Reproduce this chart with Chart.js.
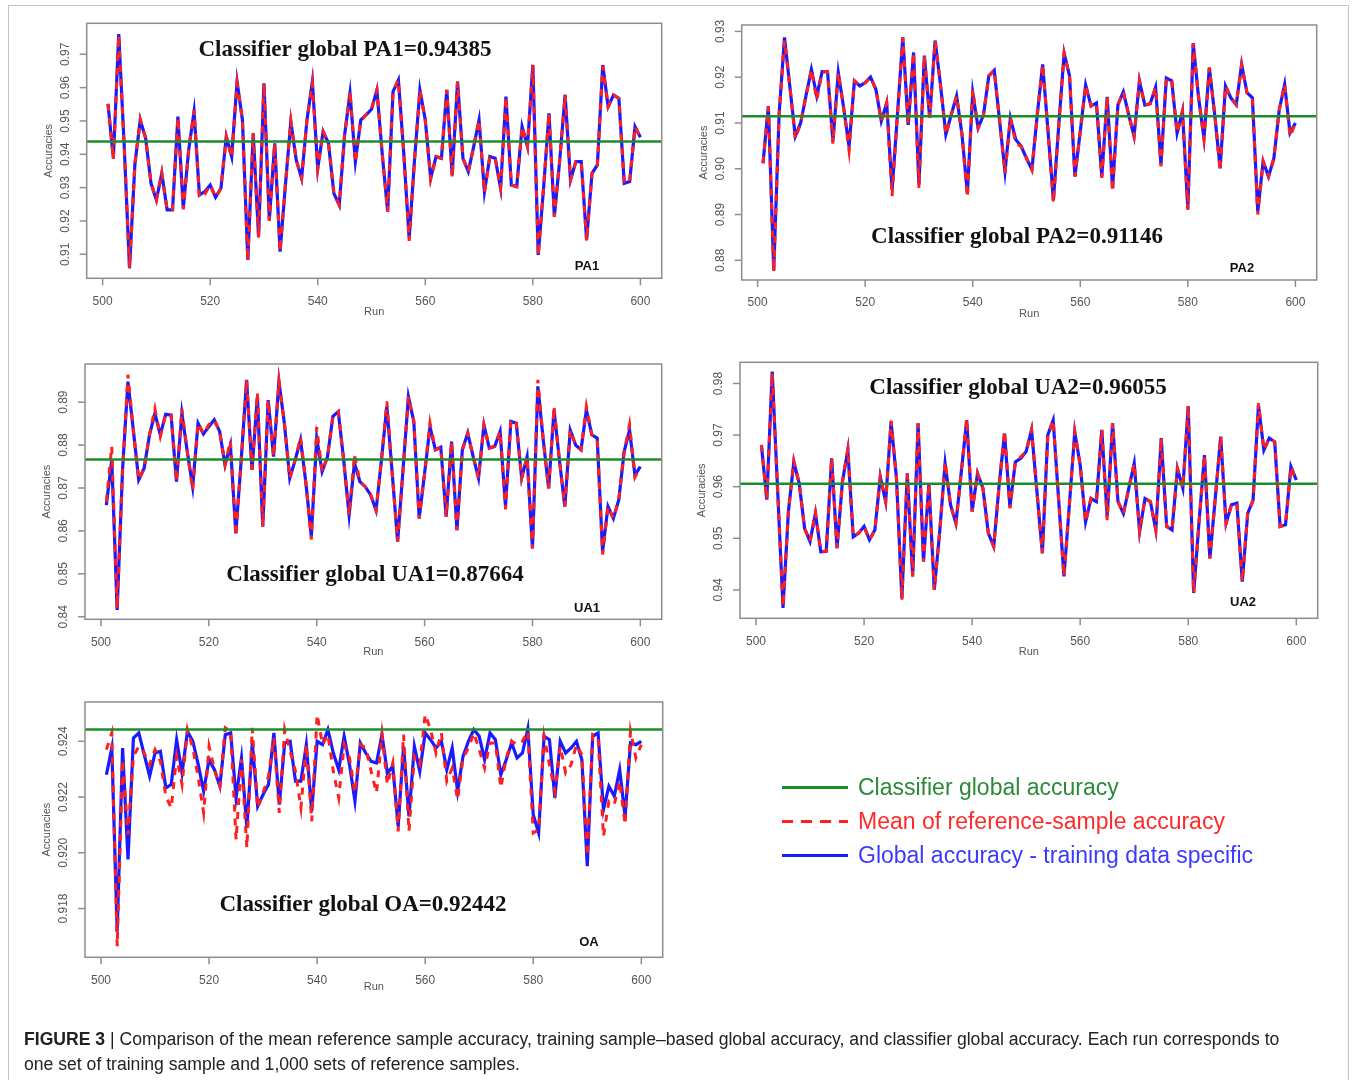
<!DOCTYPE html>
<html>
<head>
<meta charset="utf-8">
<script src="https://cdn.jsdelivr.net/npm/chart.js@4.4.1/dist/chart.umd.min.js"></script>
<style>
  html,body{margin:0;padding:0;background:#fff;}
  body{width:1354px;height:1080px;position:relative;overflow:hidden;font-family:"Liberation Sans",Arial,sans-serif;}
  .frame{position:absolute;left:8px;top:5px;width:1341px;height:1100px;border:1px solid #c4c4c4;box-sizing:border-box;}
  canvas.panel{position:absolute;left:0;top:0;}
  .lg-line{position:absolute;left:782px;width:66px;}
  .lg-text{position:absolute;left:858px;font-size:23px;line-height:26px;white-space:nowrap;}
  .caption{position:absolute;left:24px;top:1027px;font-size:17.6px;line-height:25px;color:#222;white-space:nowrap;}
</style>
</head>
<body>
<div class="frame"></div>
<canvas class="panel" id="cPA1" width="1354" height="1080"></canvas>
<canvas class="panel" id="cPA2" width="1354" height="1080"></canvas>
<canvas class="panel" id="cUA1" width="1354" height="1080"></canvas>
<canvas class="panel" id="cUA2" width="1354" height="1080"></canvas>
<canvas class="panel" id="cOA" width="1354" height="1080"></canvas>

<div class="lg-line" style="top:786px;height:2.5px;background:#1f8c2b;"></div>
<div class="lg-text" style="top:774px;color:#2a8a3a;">Classifier global accuracy</div>
<div class="lg-line" style="top:819.5px;height:3px;background:repeating-linear-gradient(90deg,#ff2020 0 11px,transparent 11px 19px);"></div>
<div class="lg-text" style="top:808px;color:#ff2a2a;">Mean of reference-sample accuracy</div>
<div class="lg-line" style="top:853.5px;height:3px;background:#1a1aff;"></div>
<div class="lg-text" style="top:842px;color:#3a3aff;">Global accuracy - training data specific</div>

<div class="caption"><b>FIGURE 3</b> | Comparison of the mean reference sample accuracy, training sample–based global accuracy, and classifier global accuracy. Each run corresponds to<br>one set of training sample and 1,000 sets of reference samples.</div>

<script>
// ---------------- DATA ----------------
const runs = Array.from({length:100}, (_, i) => 501 + i);
const xTicks = [500, 520, 540, 560, 580, 600];

const globalPA1 = 0.94385, globalPA2 = 0.91146, globalUA1 = 0.87664, globalUA2 = 0.96055, globalOA = 0.92442;

const yTicksPA1 = [0.91, 0.92, 0.93, 0.94, 0.95, 0.96, 0.97];
const yTicksPA2 = [0.88, 0.89, 0.90, 0.91, 0.92, 0.93];
const yTicksUA1 = [0.84, 0.85, 0.86, 0.87, 0.88, 0.89];
const yTicksUA2 = [0.94, 0.95, 0.96, 0.97, 0.98];
const yTicksOA  = [0.918, 0.920, 0.922, 0.924];

// Global accuracy - training data specific (blue)
const trainPA1 = [
0.9551,0.9388,0.9761,0.9430,0.9058,0.9370,0.9503,0.9448,0.9313,0.9263,
0.9343,0.9233,0.9233,0.9513,0.9238,0.9413,0.9528,0.9278,0.9288,0.9308,
0.9271,0.9298,0.9453,0.9393,0.9618,0.9503,0.9083,0.9463,0.9153,0.9613,
0.9203,0.9433,0.9108,0.9310,0.9498,0.9383,0.9328,0.9503,0.9618,0.9358,
0.9468,0.9433,0.9283,0.9248,0.9458,0.9583,0.9378,0.9503,0.9518,0.9535,
0.9593,0.9400,0.9228,0.9588,0.9623,0.9403,0.9148,0.9383,0.9593,0.9503,
0.9328,0.9393,0.9388,0.9593,0.9338,0.9618,0.9388,0.9348,0.9423,0.9503,
0.9288,0.9393,0.9388,0.9298,0.9573,0.9308,0.9303,0.9483,0.9423,0.9668,
0.9098,0.9300,0.9523,0.9213,0.9383,0.9578,0.9323,0.9378,0.9378,0.9143,
0.9343,0.9368,0.9668,0.9543,0.9578,0.9568,0.9313,0.9318,0.9483,0.9451];
const trainPA2 = [
0.9012,0.9137,0.8778,0.9120,0.9287,0.9179,0.9071,0.9100,0.9160,0.9217,
0.9159,0.9212,0.9212,0.9060,0.9210,0.9133,0.9049,0.9192,0.9181,0.9188,
0.9200,0.9173,0.9104,0.9144,0.8954,0.9118,0.9287,0.9096,0.9254,0.8965,
0.9247,0.9111,0.9280,0.9184,0.9075,0.9118,0.9159,0.9075,0.8946,0.9166,
0.9089,0.9118,0.9203,0.9215,0.9104,0.8994,0.9111,0.9064,0.9049,0.9023,
0.8998,0.9118,0.9228,0.9082,0.8932,0.9096,0.9252,0.9203,0.8983,0.9082,
0.9183,0.9137,0.9144,0.8983,0.9157,0.8957,0.9140,0.9168,0.9118,0.9071,
0.9192,0.9139,0.9142,0.9178,0.9009,0.9198,0.9192,0.9078,0.9126,0.8913,
0.9274,0.9155,0.9067,0.9221,0.9118,0.9001,0.9181,0.9155,0.9140,0.9228,
0.9166,0.9155,0.8906,0.9016,0.8983,0.9023,0.9129,0.9184,0.9078,0.9100];
const trainUA1 = [
0.8660,0.8765,0.8416,0.8742,0.8948,0.8835,0.8719,0.8746,0.8824,0.8874,
0.8824,0.8872,0.8870,0.8715,0.8874,0.8785,0.8703,0.8851,0.8826,0.8843,
0.8859,0.8832,0.8754,0.8800,0.8594,0.8765,0.8952,0.8742,0.8913,0.8610,
0.8905,0.8773,0.8948,0.8851,0.8723,0.8765,0.8812,0.8711,0.8587,0.8816,
0.8738,0.8773,0.8867,0.8878,0.8765,0.8637,0.8758,0.8715,0.8703,0.8684,
0.8648,0.8765,0.8890,0.8734,0.8575,0.8742,0.8913,0.8855,0.8629,0.8734,
0.8843,0.8789,0.8795,0.8633,0.8808,0.8602,0.8789,0.8828,0.8773,0.8723,
0.8847,0.8793,0.8797,0.8832,0.8657,0.8855,0.8851,0.8723,0.8773,0.8559,
0.8937,0.8812,0.8699,0.8882,0.8765,0.8657,0.8835,0.8800,0.8789,0.8882,
0.8824,0.8816,0.8552,0.8657,0.8629,0.8672,0.8785,0.8835,0.8730,0.8750];
const trainUA2 = [
0.9681,0.9575,0.9823,0.9594,0.9365,0.9552,0.9648,0.9606,0.9519,0.9494,
0.9548,0.9474,0.9475,0.9655,0.9481,0.9610,0.9671,0.9503,0.9510,0.9523,
0.9497,0.9516,0.9619,0.9571,0.9726,0.9616,0.9384,0.9626,0.9426,0.9723,
0.9455,0.9606,0.9400,0.9513,0.9645,0.9565,0.9529,0.9629,0.9729,0.9552,
0.9626,0.9597,0.9510,0.9484,0.9603,0.9703,0.9561,0.9648,0.9655,0.9668,
0.9710,0.9590,0.9471,0.9700,0.9729,0.9577,0.9426,0.9565,0.9706,0.9642,
0.9532,0.9577,0.9571,0.9710,0.9542,0.9723,0.9571,0.9548,0.9597,0.9645,
0.9513,0.9577,0.9571,0.9516,0.9694,0.9523,0.9516,0.9635,0.9597,0.9755,
0.9394,0.9532,0.9661,0.9461,0.9577,0.9697,0.9529,0.9565,0.9568,0.9416,
0.9548,0.9574,0.9758,0.9671,0.9694,0.9687,0.9523,0.9526,0.9639,0.9613];
const trainOA = [
0.92280,0.92376,0.91719,0.92376,0.91976,0.92412,0.92430,0.92352,0.92275,0.92358,
0.92364,0.92233,0.92245,0.92406,0.92286,0.92436,0.92400,0.92316,0.92221,0.92334,
0.92298,0.92239,0.92424,0.92430,0.92197,0.92340,0.92089,0.92394,0.92167,0.92209,
0.92245,0.92430,0.92173,0.92394,0.92400,0.92257,0.92257,0.92388,0.92149,0.92400,
0.92388,0.92442,0.92358,0.92298,0.92418,0.92316,0.92185,0.92394,0.92358,0.92328,
0.92322,0.92424,0.92286,0.92310,0.92095,0.92382,0.92131,0.92382,0.92292,0.92430,
0.92406,0.92376,0.92400,0.92298,0.92376,0.92221,0.92346,0.92400,0.92442,0.92418,
0.92334,0.92430,0.92406,0.92280,0.92334,0.92394,0.92340,0.92358,0.92445,0.92137,
0.92071,0.92418,0.92406,0.92197,0.92400,0.92358,0.92376,0.92400,0.92334,0.91952,
0.92418,0.92430,0.92155,0.92239,0.92203,0.92298,0.92131,0.92394,0.92388,0.92400];

// Mean of reference-sample accuracy (red dashed)
const refPA1 = [
0.9551,0.9385,0.9758,0.9430,0.9060,0.9370,0.9505,0.9448,0.9313,0.9263,
0.9345,0.9233,0.9235,0.9510,0.9235,0.9413,0.9532,0.9270,0.9280,0.9308,
0.9271,0.9298,0.9453,0.9390,0.9615,0.9503,0.9080,0.9463,0.9150,0.9613,
0.9200,0.9433,0.9108,0.9310,0.9500,0.9383,0.9328,0.9503,0.9615,0.9355,
0.9468,0.9433,0.9283,0.9248,0.9458,0.9590,0.9375,0.9503,0.9518,0.9535,
0.9593,0.9400,0.9228,0.9588,0.9623,0.9403,0.9140,0.9383,0.9593,0.9500,
0.9325,0.9393,0.9388,0.9593,0.9330,0.9618,0.9388,0.9348,0.9423,0.9503,
0.9285,0.9393,0.9388,0.9298,0.9573,0.9308,0.9303,0.9483,0.9423,0.9668,
0.9095,0.9300,0.9523,0.9213,0.9383,0.9578,0.9323,0.9378,0.9378,0.9140,
0.9343,0.9368,0.9665,0.9543,0.9578,0.9568,0.9313,0.9318,0.9483,0.9451];
const refPA2 = [
0.9012,0.9137,0.8775,0.9120,0.9280,0.9179,0.9065,0.9100,0.9160,0.9217,
0.9150,0.9212,0.9212,0.9055,0.9210,0.9133,0.9040,0.9192,0.9181,0.9188,
0.9200,0.9173,0.9104,0.9144,0.8940,0.9118,0.9287,0.9096,0.9254,0.8958,
0.9247,0.9111,0.9280,0.9184,0.9075,0.9118,0.9159,0.9075,0.8938,0.9172,
0.9089,0.9118,0.9203,0.9215,0.9104,0.8990,0.9111,0.9055,0.9049,0.9023,
0.8998,0.9118,0.9228,0.9082,0.8925,0.9096,0.9252,0.9203,0.8983,0.9082,
0.9183,0.9137,0.9144,0.8980,0.9157,0.8950,0.9140,0.9168,0.9118,0.9071,
0.9192,0.9139,0.9142,0.9178,0.9005,0.9198,0.9192,0.9078,0.9126,0.8910,
0.9274,0.9155,0.9065,0.9221,0.9118,0.8995,0.9181,0.9155,0.9140,0.9228,
0.9166,0.9155,0.8900,0.9016,0.8983,0.9023,0.9129,0.9184,0.9070,0.9100];
const refUA1 = [
0.8668,0.8797,0.8420,0.8742,0.8964,0.8835,0.8719,0.8746,0.8824,0.8885,
0.8820,0.8872,0.8870,0.8715,0.8885,0.8785,0.8695,0.8851,0.8826,0.8848,
0.8859,0.8832,0.8754,0.8810,0.8588,0.8765,0.8952,0.8742,0.8922,0.8610,
0.8905,0.8773,0.8948,0.8851,0.8723,0.8765,0.8818,0.8711,0.8580,0.8842,
0.8738,0.8773,0.8867,0.8878,0.8765,0.8637,0.8778,0.8715,0.8703,0.8684,
0.8648,0.8765,0.8902,0.8734,0.8575,0.8742,0.8913,0.8855,0.8629,0.8734,
0.8852,0.8789,0.8795,0.8633,0.8808,0.8602,0.8789,0.8828,0.8773,0.8723,
0.8847,0.8793,0.8797,0.8832,0.8650,0.8860,0.8851,0.8723,0.8773,0.8559,
0.8952,0.8812,0.8699,0.8890,0.8765,0.8657,0.8835,0.8800,0.8789,0.8890,
0.8824,0.8816,0.8545,0.8657,0.8629,0.8672,0.8785,0.8848,0.8725,0.8750];
const refUA2 = [
0.9681,0.9575,0.9820,0.9594,0.9368,0.9552,0.9650,0.9606,0.9519,0.9494,
0.9550,0.9474,0.9475,0.9655,0.9481,0.9610,0.9673,0.9503,0.9510,0.9523,
0.9497,0.9516,0.9619,0.9571,0.9728,0.9616,0.9380,0.9626,0.9426,0.9723,
0.9455,0.9606,0.9400,0.9513,0.9648,0.9565,0.9529,0.9629,0.9732,0.9552,
0.9626,0.9597,0.9510,0.9484,0.9603,0.9708,0.9558,0.9648,0.9658,0.9668,
0.9710,0.9590,0.9471,0.9700,0.9729,0.9577,0.9426,0.9565,0.9706,0.9642,
0.9532,0.9577,0.9571,0.9710,0.9535,0.9723,0.9571,0.9548,0.9597,0.9645,
0.9513,0.9577,0.9571,0.9516,0.9694,0.9523,0.9516,0.9635,0.9597,0.9758,
0.9394,0.9532,0.9661,0.9461,0.9577,0.9697,0.9529,0.9565,0.9568,0.9416,
0.9548,0.9574,0.9762,0.9671,0.9694,0.9687,0.9523,0.9526,0.9639,0.9613];
const refOA = [
0.92370,0.92430,0.91665,0.92334,0.92065,0.92346,0.92382,0.92358,0.92316,0.92370,
0.92328,0.92203,0.92161,0.92346,0.92245,0.92442,0.92376,0.92269,0.92143,0.92382,
0.92298,0.92239,0.92448,0.92436,0.92047,0.92334,0.92018,0.92448,0.92161,0.92215,
0.92275,0.92412,0.92143,0.92442,0.92364,0.92292,0.92161,0.92388,0.92113,0.92496,
0.92388,0.92424,0.92292,0.92197,0.92388,0.92340,0.92215,0.92388,0.92376,0.92292,
0.92215,0.92424,0.92245,0.92322,0.92077,0.92424,0.92077,0.92346,0.92316,0.92496,
0.92442,0.92358,0.92430,0.92257,0.92304,0.92191,0.92340,0.92376,0.92430,0.92370,
0.92304,0.92394,0.92394,0.92233,0.92340,0.92400,0.92388,0.92400,0.92436,0.92071,
0.92083,0.92418,0.92316,0.92221,0.92382,0.92286,0.92316,0.92388,0.92352,0.91988,
0.92424,0.92412,0.92059,0.92185,0.92173,0.92257,0.92101,0.92436,0.92340,0.92388];

// ---------------- STYLE / LAYOUT ----------------
const GREEN = '#1f8c2b', RED = '#ff1f1f', BLUE = '#1a1aff';
const X_MIN = 497.04, X_MAX = 603.96;

const panels = [
  {id:'cPA1', box:[86.7,23.3,661.7,278.3], y:[0.9028,0.9793], yTicks:yTicksPA1, dec:2, train:trainPA1, ref:refPA1, g:globalPA1,
   title:'Classifier global PA1=0.94385', tx:345, ty:50, tag:'PA1', gx:587, gy:266, runDy:34},
  {id:'cPA2', box:[741.7,25,1316.7,280], y:[0.8757,0.9314], yTicks:yTicksPA2, dec:2, train:trainPA2, ref:refPA2, g:globalPA2,
   title:'Classifier global PA2=0.91146', tx:1017, ty:237, tag:'PA2', gx:1242, gy:268, runDy:34},
  {id:'cUA1', box:[85,364,661.7,619.3], y:[0.8394,0.8989], yTicks:yTicksUA1, dec:2, train:trainUA1, ref:refUA1, g:globalUA1,
   title:'Classifier global UA1=0.87664', tx:375, ty:575, tag:'UA1', gx:587, gy:608, runDy:33},
  {id:'cUA2', box:[740,362.3,1317.7,618.3], y:[0.9345,0.9841], yTicks:yTicksUA2, dec:2, train:trainUA2, ref:refUA2, g:globalUA2,
   title:'Classifier global UA2=0.96055', tx:1018, ty:388, tag:'UA2', gx:1243, gy:602, runDy:34},
  {id:'cOA', box:[85,702,662.7,957.3], y:[0.91625,0.92541], yTicks:yTicksOA, dec:3, train:trainOA, ref:refOA, g:globalOA,
   title:'Classifier global OA=0.92442', tx:363, ty:905, tag:'OA', gx:589, gy:942, runDy:30}
];

const rFrame = {
  id: 'rFrame',
  afterDatasetsDraw(chart) {
    const p = chart.options.plugins.rFrame;
    const {ctx, chartArea: a} = chart;
    const xs = chart.scales.x, ys = chart.scales.y;
    ctx.save();
    ctx.strokeStyle = '#8d8d8d';
    ctx.lineWidth = 1.5;
    ctx.strokeRect(a.left, a.top, a.right - a.left, a.bottom - a.top);
    ctx.fillStyle = '#555';
    ctx.font = '12px "Liberation Sans", Arial, sans-serif';
    ctx.textAlign = 'center';
    ctx.textBaseline = 'middle';
    p.xTicks.forEach(v => {
      const px = xs.getPixelForValue(v);
      ctx.beginPath(); ctx.moveTo(px, a.bottom); ctx.lineTo(px, a.bottom + 7); ctx.stroke();
      ctx.fillText(String(v), px, a.bottom + 23);
    });
    p.yTicks.forEach(v => {
      const py = ys.getPixelForValue(v);
      ctx.beginPath(); ctx.moveTo(a.left - 7, py); ctx.lineTo(a.left, py); ctx.stroke();
      ctx.save(); ctx.translate(a.left - 21, py); ctx.rotate(-Math.PI / 2);
      ctx.fillText(v.toFixed(p.dec), 0, 0); ctx.restore();
    });
    ctx.font = '11px "Liberation Sans", Arial, sans-serif';
    ctx.save(); ctx.translate(a.left - 38, (a.top + a.bottom) / 2); ctx.rotate(-Math.PI / 2);
    ctx.fillText('Accuracies', 0, 0); ctx.restore();
    ctx.fillText('Run', (a.left + a.right) / 2, a.bottom + p.runDy);
    ctx.fillStyle = '#111';
    ctx.font = 'bold 23px "Liberation Serif", "Times New Roman", serif';
    ctx.fillText(p.title, p.tx, p.ty);
    ctx.font = 'bold 13px "Liberation Sans", Arial, sans-serif';
    ctx.fillText(p.tag, p.gx, p.gy);
    ctx.restore();
  }
};

panels.forEach(p => {
  const pts = arr => runs.map((r, i) => ({x: r, y: arr[i]}));
  new Chart(document.getElementById(p.id), {
    type: 'line',
    data: {
      datasets: [
        {label: 'Classifier global accuracy', data: [{x: X_MIN, y: p.g}, {x: X_MAX, y: p.g}],
         borderColor: GREEN, borderWidth: 2.5, pointRadius: 0, order: 0},
        {label: 'Mean of reference-sample accuracy', data: pts(p.ref),
         borderColor: RED, borderWidth: 3, borderDash: [7, 7], pointRadius: 0, order: 1},
        {label: 'Global accuracy - training data specific', data: pts(p.train),
         borderColor: BLUE, borderWidth: 3.2, pointRadius: 0, order: 2}
      ]
    },
    options: {
      responsive: false, animation: false, events: [],
      layout: {padding: {left: p.box[0], top: p.box[1], right: 1354 - p.box[2], bottom: 1080 - p.box[3]}},
      scales: {
        x: {type: 'linear', display: false, min: X_MIN, max: X_MAX},
        y: {type: 'linear', display: false, min: p.y[0], max: p.y[1]}
      },
      plugins: {
        legend: {display: false}, tooltip: {enabled: false},
        rFrame: {xTicks, yTicks: p.yTicks, dec: p.dec, title: p.title, tx: p.tx, ty: p.ty,
                 tag: p.tag, gx: p.gx, gy: p.gy, runDy: p.runDy}
      }
    },
    plugins: [rFrame]
  });
});
</script>
</body>
</html>
